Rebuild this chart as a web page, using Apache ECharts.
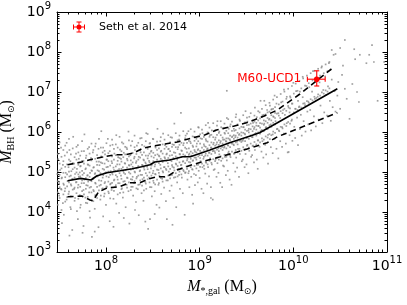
<!DOCTYPE html>
<html><head><meta charset="utf-8">
<script src="https://cdn.jsdelivr.net/npm/echarts@6/dist/echarts.min.js"></script>
<style>html,body{margin:0;padding:0;background:#fff}#c{width:407px;height:305px}</style>
</head><body><div id="c"></div>
<script>
// All values are log10 of the physical quantity
const xRange = [Math.log10(3e7), 11];
const yRange = [3, 9];
const xMajorTicks = [8, 9, 10, 11];
const yMajorTicks = [3, 4, 5, 6, 7, 8, 9];

// log10 M_*,gal , log10 M_BH for the galaxy sample
const galaxyPoints = [
[7.48,4.95],[7.49,5.32],[7.50,4.41],[7.50,4.72],[7.51,5.05],[7.52,4.58],[7.52,5.61],[7.53,4.86],[7.54,4.22],[7.54,5.18],[7.55,4.68],[7.55,3.93],
[7.56,5.41],[7.56,4.52],[7.57,4.98],[7.58,4.31],[7.58,5.73],[7.59,4.77],[7.60,5.12],[7.60,4.45],[7.61,5.55],[7.61,4.89],[7.62,4.12],[7.62,5.27],[7.63,4.66],[7.63,5.02],[7.64,3.55],[7.64,4.83],[7.65,5.88],
[7.66,4.58],[7.66,5.21],[7.67,4.95],[7.67,4.35],[7.68,5.46],[7.68,4.74],[7.69,5.08],[7.70,3.82],[7.70,4.61],[7.70,5.67],[7.71,4.88],[7.71,5.33],[7.72,4.42],[7.72,4.99],[7.73,5.15],[7.73,4.18],[7.74,4.72],[7.74,5.52],[7.75,3.48],[7.75,4.93],
[7.76,5.28],[7.76,4.55],[7.77,4.81],[7.77,5.94],[7.78,4.36],[7.78,5.07],[7.79,4.67],[7.79,5.41],[7.80,4.91],[7.80,4.22],[7.81,5.18],[7.81,4.76],[7.82,5.62],[7.82,4.49],[7.83,4.98],[7.83,3.86],[7.84,5.35],[7.84,4.63],[7.85,5.03],[7.85,4.29],[7.85,3.38],
[7.86,4.83],[7.86,5.49],[7.87,4.52],[7.87,5.12],[7.88,4.95],[7.88,4.08],[7.89,5.71],[7.89,4.71],[7.90,5.26],[7.90,4.42],[7.91,4.89],[7.91,5.04],[7.92,3.62],[7.92,5.58],[7.93,4.66],[7.93,5.17],[7.94,4.31],[7.94,4.97],[7.95,5.39],[7.95,4.78],[7.95,6.02],
[7.96,4.58],[7.96,5.22],[7.97,4.92],[7.97,5.61],[7.98,4.39],[7.98,5.06],[7.99,4.75],[7.99,5.44],[8.00,4.99],[8.00,4.18],[8.01,5.31],[8.01,4.63],[8.02,5.13],[8.02,5.83],[8.03,4.87],[8.03,4.47],[8.04,5.52],[8.04,3.77],[8.05,5.02],[8.05,4.71],
[8.06,5.27],[8.06,4.55],[8.07,5.68],[8.07,4.94],[8.08,4.33],[8.08,5.11],[8.09,4.81],[8.09,5.46],[8.10,5.03],[8.10,4.62],[8.11,5.92],[8.11,4.21],[8.12,5.19],[8.12,4.88],[8.13,5.37],[8.13,4.72],[8.14,3.98],[8.14,5.07],[8.15,5.56],[8.15,4.48],
[8.16,4.91],[8.16,5.33],[8.17,4.59],[8.17,5.74],[8.18,5.12],[8.18,4.36],[8.19,4.98],[8.19,5.48],[8.20,4.77],[8.20,5.22],[8.21,4.12],[8.21,5.05],[8.22,5.61],[8.22,4.68],[8.23,5.29],[8.23,4.85],[8.24,6.01],[8.24,4.52],[8.25,5.16],[8.25,3.71],
[8.26,4.96],[8.26,5.42],[8.27,4.63],[8.27,5.19],[8.28,5.77],[8.28,4.81],[8.29,4.41],[8.29,5.08],[8.30,5.34],[8.30,4.72],[8.31,5.55],[8.31,4.99],[8.32,4.25],[8.32,5.23],[8.33,4.88],[8.33,5.66],[8.34,5.11],[8.34,4.57],[8.35,3.92],[8.35,5.38],
[8.36,5.02],[8.36,4.69],[8.37,5.49],[8.37,4.93],[8.38,5.85],[8.38,4.47],[8.39,5.17],[8.39,4.82],[8.40,5.31],[8.40,4.28],[8.41,5.64],[8.41,5.06],[8.42,4.75],[8.42,5.24],[8.43,4.58],[8.43,5.97],[8.44,5.13],[8.44,4.91],[8.45,5.41],[8.45,3.58],
[8.46,4.86],[8.46,5.28],[8.47,5.72],[8.47,4.62],[8.48,5.09],[8.48,5.51],[8.49,4.39],[8.49,5.19],[8.50,4.97],[8.50,5.83],[8.51,4.73],[8.51,5.36],[8.52,5.14],[8.52,4.52],[8.53,5.61],[8.53,4.94],[8.54,5.26],[8.54,4.18],[8.55,5.44],[8.55,6.08],
[8.56,5.05],[8.56,4.68],[8.57,5.39],[8.57,4.91],[8.58,5.77],[8.58,5.18],[8.59,4.45],[8.59,5.53],[8.60,4.83],[8.60,5.29],[8.61,5.96],[8.61,4.99],[8.62,5.12],[8.62,4.61],[8.63,5.67],[8.63,5.34],[8.64,4.27],[8.64,5.08],[8.65,5.46],[8.65,3.82],
[8.66,5.22],[8.66,4.79],[8.67,5.58],[8.67,5.01],[8.68,4.53],[8.68,5.41],[8.69,5.87],[8.69,4.92],[8.70,5.27],[8.70,4.66],[8.71,5.13],[8.71,5.69],[8.72,4.35],[8.72,5.35],[8.73,5.04],[8.73,6.21],[8.74,4.87],[8.74,5.48],[8.75,5.19],[8.75,4.12],
[8.76,5.31],[8.76,4.74],[8.77,5.62],[8.77,5.08],[8.78,4.93],[8.78,5.81],[8.79,4.58],[8.79,5.44],[8.80,5.17],[8.80,6.48],[8.81,4.86],[8.81,5.53],[8.82,5.26],[8.82,4.47],[8.83,5.72],[8.83,5.02],[8.84,3.93],[8.84,5.39],[8.85,4.99],[8.85,5.91],
[8.86,5.14],[8.86,5.58],[8.87,4.81],[8.87,5.33],[8.88,6.02],[8.88,4.97],[8.89,5.46],[8.89,4.62],[8.90,5.24],[8.90,5.76],[8.91,4.88],[8.91,5.41],[8.92,5.07],[8.92,4.43],[8.93,5.63],[8.93,5.29],[8.94,4.95],[8.94,5.88],[8.95,5.51],[8.95,4.67],
[8.96,5.36],[8.96,4.92],[8.97,5.71],[8.97,5.18],[8.98,4.74],[8.98,5.55],[8.99,6.11],[8.99,5.03],[9.00,5.42],[9.00,4.85],[9.01,5.84],[9.01,5.27],[9.02,4.58],[9.02,5.49],[9.03,5.12],[9.03,5.97],[9.04,5.33],[9.04,4.47],[9.05,5.65],[9.05,5.08],
[9.06,5.41],[9.06,4.96],[9.07,5.78],[9.07,5.23],[9.08,4.71],[9.08,5.57],[9.09,6.23],[9.09,5.12],[9.10,5.48],[9.10,4.89],[9.11,5.92],[9.11,5.34],[9.12,4.62],[9.12,5.61],[9.13,5.19],[9.13,6.04],[9.14,5.52],[9.14,4.31],[9.15,5.73],[9.15,5.05],
[9.16,5.52],[9.16,5.07],[9.17,5.86],[9.17,5.31],[9.18,4.88],[9.18,5.69],[9.19,6.27],[9.19,5.22],[9.20,5.59],[9.20,4.98],[9.21,6.01],[9.21,5.44],[9.22,4.73],[9.22,5.73],[9.23,5.28],[9.23,6.12],[9.24,5.63],[9.24,4.62],[9.25,5.81],[9.25,5.16],
[9.26,5.61],[9.26,5.14],[9.27,5.96],[9.27,5.38],[9.28,4.92],[9.28,5.77],[9.29,6.35],[9.29,5.29],[9.30,5.67],[9.30,5.03],[9.31,6.08],[9.31,5.51],[9.32,4.81],[9.32,5.82],[9.33,5.37],[9.33,6.19],[9.34,5.72],[9.34,4.68],[9.35,5.89],[9.29,7.03],
[9.36,5.69],[9.36,5.22],[9.37,6.03],[9.37,5.46],[9.38,5.01],[9.38,5.87],[9.39,6.44],[9.39,5.36],[9.40,5.76],[9.40,5.11],[9.41,6.17],[9.41,5.58],[9.42,4.88],[9.42,5.93],[9.43,5.45],[9.43,6.28],[9.44,5.79],[9.45,5.27],
[9.46,5.78],[9.46,5.31],[9.47,6.12],[9.47,5.56],[9.48,5.12],[9.48,5.96],[9.49,6.52],[9.49,5.45],[9.50,5.85],[9.50,5.19],[9.51,6.26],[9.51,5.68],[9.52,4.97],[9.52,6.04],[9.53,5.53],[9.53,6.38],[9.54,5.91],[9.55,5.38],
[9.56,5.87],[9.56,5.42],[9.57,6.23],[9.57,5.66],[9.58,5.24],[9.58,6.08],[9.59,6.61],[9.59,5.55],[9.60,5.97],[9.61,5.31],[9.61,6.37],[9.62,5.79],[9.62,5.08],[9.63,6.15],[9.64,5.63],[9.64,6.49],[9.65,6.02],[9.65,6.78],
[9.66,5.51],[9.66,6.04],[9.67,6.42],[9.67,5.77],[9.68,5.36],[9.69,6.21],[9.69,6.78],[9.70,5.68],[9.71,6.12],[9.71,5.44],[9.72,6.55],[9.73,5.93],[9.73,5.21],[9.74,6.31],[9.75,5.82],[9.75,6.66],
[9.76,6.19],[9.76,5.62],[9.77,6.57],[9.78,5.94],[9.78,5.47],[9.79,6.38],[9.80,6.91],[9.80,5.83],[9.81,6.27],[9.82,5.58],[9.82,6.71],[9.83,6.08],[9.84,5.34],[9.84,6.47],[9.85,6.02],
[9.86,6.35],[9.86,5.77],[9.87,6.74],[9.88,6.12],[9.88,5.63],[9.89,6.55],[9.90,7.06],[9.90,5.96],[9.91,6.43],[9.92,5.71],[9.93,6.88],[9.93,6.22],[9.94,5.49],[9.95,6.61],[9.95,5.50],
[9.96,6.49],[9.96,5.92],[9.97,6.86],[9.98,6.28],[9.99,5.78],[9.99,6.71],[10.00,7.23],[10.01,6.13],[10.02,6.58],[10.02,5.85],[10.03,7.02],[10.04,6.36],[10.05,5.67],[10.05,6.78],
[10.06,6.62],[10.07,6.07],[10.07,7.01],[10.08,6.43],[10.09,5.91],[10.10,6.87],[10.10,7.38],[10.11,6.27],[10.12,6.72],[10.13,6.01],[10.14,7.15],[10.15,6.51],
[10.16,6.76],[10.16,6.19],[10.17,7.12],[10.18,6.55],[10.19,6.04],[10.20,7.01],[10.21,7.52],[10.22,6.39],[10.23,6.83],[10.24,6.14],[10.25,7.28],
[10.26,6.88],[10.27,6.31],[10.28,7.24],[10.29,6.66],[10.30,7.61],[10.31,6.22],[10.32,7.05],[10.33,6.49],[10.34,7.39],[10.35,6.93],
[10.36,6.41],[10.37,7.14],[10.38,7.72],[10.39,6.78],[10.40,6.28],[10.41,7.31],[10.42,6.62],[10.43,7.93],[10.44,7.02],[10.45,6.51],
[10.41,8.05],[10.45,7.95],[10.50,8.10],[10.55,8.30],[10.65,8.07],[10.71,7.93],[10.81,7.93],[10.86,7.75],[10.97,7.75],[10.66,7.82],
[10.52,7.43],[10.63,7.20],[10.55,7.08],[10.68,7.00],[10.57,6.83],[10.90,6.78],[10.70,6.75],[10.50,6.58],[10.60,6.33],[10.84,8.17],
[10.78,7.72],[10.47,6.91],[10.53,7.66],[10.48,7.25],
[7.53,3.72],[7.61,3.41],[7.69,4.02],[7.76,3.65],[7.88,3.51],[7.97,3.89],[8.08,3.63],[8.19,3.85],[8.31,4.05],[8.42,3.76],
[8.57,4.11],[8.71,3.68],[8.93,4.21],[9.12,4.35],[8.47,3.82],[8.52,3.95]
];

// more galaxies, listed per narrow stellar-mass column: [log M_*,gal, log M_BH values...]
const galaxyColumns = [
[7.485,5.45,5.02,4.77,4.49,4.18],[7.505,5.21,4.93,4.62,4.35,5.74],[7.525,5.38,5.09,4.84,4.56,4.05],[7.545,5.55,4.98,4.71,4.44,5.27],
[7.565,5.13,4.87,4.59,4.26,5.66],[7.585,5.49,5.19,4.94,4.64,4.37],[7.605,5.31,5.01,4.74,4.51,5.83],[7.625,5.44,4.91,4.69,4.39,4.07],
[7.645,5.22,5.07,4.82,4.56,5.59],[7.665,5.37,5.11,4.86,4.61,4.28],[7.685,5.63,4.99,4.75,4.47,5.31],[7.705,5.18,4.94,4.68,4.33,5.49],
[7.725,5.41,5.14,4.89,4.63,4.11],[7.745,5.28,5.03,4.79,4.52,5.77],[7.765,5.52,4.97,4.72,4.44,5.21],[7.785,5.35,5.09,4.85,4.58,4.23],
[7.805,5.19,4.92,4.66,4.38,5.58],[7.825,5.46,5.16,4.88,4.61,4.02],[7.845,5.29,5.04,4.77,4.49,5.71],[7.865,5.55,5.11,4.84,4.55,4.27],
[7.885,5.33,4.97,4.73,4.42,5.64],[7.905,5.42,5.18,4.91,4.63,4.35],[7.925,5.26,5.02,4.79,4.54,5.83],[7.945,5.61,5.24,4.95,4.68,4.41],
[7.965,5.37,5.08,4.86,4.59,5.49],[7.985,5.53,5.21,4.97,4.72,4.46],[8.005,5.31,5.12,4.89,4.64,5.72],[8.025,5.47,5.27,5.01,4.76,4.51],
[8.045,5.66,5.16,4.93,4.69,4.34],[8.065,5.39,5.22,4.98,4.73,5.81],[8.085,5.58,5.31,5.05,4.79,4.53],[8.105,5.42,5.14,4.92,4.67,5.69],
[8.125,5.61,5.28,5.04,4.81,4.44],[8.145,5.35,5.19,4.97,4.72,5.88],[8.165,5.52,5.26,5.08,4.83,4.57],[8.185,5.71,5.37,5.02,4.76,4.49],
[8.205,5.44,5.21,4.95,4.69,5.63],[8.225,5.57,5.33,5.11,4.86,4.61],[8.245,5.39,5.17,4.99,4.74,5.79],[8.265,5.66,5.29,5.06,4.82,4.55],
[8.285,5.48,5.24,5.13,4.88,4.63],[8.305,5.62,5.38,5.01,4.77,5.91],[8.325,5.45,5.27,5.09,4.84,4.59],[8.345,5.73,5.31,5.15,4.91,4.68],
[8.365,5.54,5.36,5.04,4.79,5.84],[8.385,5.68,5.43,5.18,4.93,4.66],[8.405,5.49,5.29,5.11,4.86,4.54],[8.425,5.77,5.41,5.21,4.97,4.71],
[8.445,5.58,5.34,5.07,4.82,5.95],[8.465,5.71,5.46,5.24,4.99,4.74],[8.485,5.53,5.39,5.16,4.91,4.62],[8.505,5.82,5.48,5.27,5.03,4.78],
[8.525,5.64,5.42,5.19,4.95,4.69],[8.545,5.76,5.55,5.31,5.06,4.81],[8.565,5.59,5.41,5.22,4.98,4.72],[8.585,5.87,5.51,5.33,5.09,4.85],
[8.605,5.69,5.46,5.25,5.02,4.76],[8.625,5.81,5.58,5.37,5.12,4.87],[8.645,5.63,5.44,5.28,5.05,4.79],[8.665,5.92,5.57,5.35,5.14,4.91],
[8.685,5.74,5.52,5.31,5.08,4.84],[8.705,5.86,5.63,5.42,5.17,4.93],[8.725,5.68,5.49,5.33,5.11,4.86],[8.745,5.97,5.62,5.39,5.21,4.97],
[8.765,5.79,5.57,5.36,5.15,4.89],[8.785,5.91,5.68,5.45,5.24,5.01],[8.805,5.73,5.54,5.38,5.18,4.94],[8.825,6.02,5.67,5.44,5.27,5.05],
[8.845,5.84,5.61,5.41,5.22,4.98],[8.865,5.96,5.73,5.49,5.29,5.08],[8.885,5.78,5.59,5.43,5.25,5.02],[8.905,6.07,5.72,5.51,5.33,5.12],
[8.925,5.89,5.66,5.47,5.28,5.06],[8.945,6.01,5.78,5.55,5.36,5.15],[8.965,5.83,5.64,5.49,5.31,5.09],[8.985,6.12,5.77,5.57,5.39,5.18],
[9.005,5.94,5.71,5.53,5.35,5.13],[9.025,6.06,5.83,5.61,5.42,5.21],[9.045,5.88,5.69,5.55,5.38,5.16],[9.065,6.17,5.82,5.63,5.46,5.25],
[9.085,5.99,5.76,5.59,5.41,5.19],[9.105,6.11,5.88,5.67,5.49,5.28],[9.125,5.93,5.74,5.61,5.45,5.23],[9.145,6.22,5.87,5.69,5.53,5.32],
[9.165,6.04,5.81,5.66,5.48,5.27],[9.185,6.16,5.93,5.74,5.56,5.36],[9.205,5.98,5.79,5.68,5.52,5.31],[9.225,6.27,5.92,5.77,5.59,5.39],
[9.245,6.09,5.86,5.71,5.55,5.34],[9.265,6.21,5.98,5.81,5.63,5.43],[9.285,6.03,5.84,5.76,5.59,5.38],[9.305,6.32,5.97,5.84,5.66,5.47],
[9.325,6.14,5.91,5.79,5.62,5.41],[9.345,6.26,6.03,5.87,5.71,5.51],[9.365,6.08,5.92,5.83,5.67,5.46],[9.385,6.37,6.05,5.91,5.74,5.55],
[9.405,6.19,5.98,5.86,5.69,5.49],[9.425,6.31,6.09,5.95,5.78,5.58],[9.445,6.13,5.99,5.91,5.75,5.53],[9.465,6.42,6.12,5.98,5.82,5.62],
[9.485,6.24,6.06,5.94,5.77,5.57],[9.505,6.36,6.17,6.03,5.86,5.66],[9.525,6.18,6.08,5.99,5.83,5.61],[9.545,6.47,6.21,6.07,5.91,5.71],
[9.565,6.29,6.14,6.02,5.87,5.65],[9.585,6.41,6.26,6.12,5.95,5.75],[9.605,6.23,6.16,6.06,5.91,5.69],[9.625,6.52,6.29,6.15,5.99,5.79],
[9.645,6.34,6.22,6.11,5.96,5.74],[9.665,6.58,6.37,6.21,6.05,5.84],[9.685,6.43,6.29,6.18,6.02,5.81],[9.705,6.67,6.44,6.27,6.11,5.89],
[9.725,6.49,6.35,6.23,6.07,5.86],[9.745,6.73,6.51,6.33,6.17,5.95],[9.765,6.56,6.42,6.29,6.13,5.92],[9.785,6.81,6.58,6.39,6.23,6.01],
[9.805,6.62,6.48,6.35,6.19,5.98],[9.825,6.87,6.46,6.07],[9.845,6.69,6.41,6.04],[9.865,6.95,6.52,6.13],[9.885,6.76,6.47,6.09],
[9.905,7.01,6.58,6.19],[9.925,6.83,6.53,6.15],[9.945,7.08,6.65,6.25],[9.965,6.89,6.59,6.21],[9.985,7.15,6.71,6.31],
[10.005,6.96,6.49],[10.025,7.21,6.58],[10.045,7.03,6.55],[10.065,7.28,6.64],[10.085,7.09,6.61],[10.105,7.34,6.71],
[10.125,7.16,6.67],[10.145,7.41,6.77],[10.165,7.22,6.73],[10.185,7.47,6.82],[10.205,7.29,6.79],[10.225,7.53,6.88],
[10.245,7.36,6.85],[10.265,7.58,6.94],[10.285,7.41,6.91],[10.305,7.64,6.99],[10.325,7.47,6.96],[10.345,7.69,7.04],
[10.365,7.52,7.01],[10.385,7.75,7.09]
];

// median and percentile curves (log10 M_*,gal , log10 M_BH)
const medianLine = [[7.59,4.78],[7.73,4.84],[7.84,4.80],[7.90,4.90],[8.01,4.98],[8.15,5.03],[8.28,5.08],[8.38,5.13],[8.47,5.18],[8.52,5.25],[8.68,5.30],[8.82,5.38],[8.90,5.38],[9.11,5.55],[9.32,5.73],[9.54,5.90],[9.64,5.98],[9.83,6.23],[10.47,7.08]];
const upperLine = [[7.59,5.18],[7.74,5.25],[7.87,5.33],[7.98,5.38],[8.09,5.43],[8.20,5.43],[8.30,5.48],[8.40,5.60],[8.51,5.65],[8.63,5.70],[8.76,5.75],[8.92,5.85],[9.06,5.93],[9.18,6.05],[9.37,6.15],[9.50,6.23],[9.69,6.40],[9.83,6.55],[10.07,6.95],[10.41,7.58]];
const lowerLine = [[7.59,4.38],[7.74,4.40],[7.83,4.30],[7.86,4.28],[7.92,4.50],[8.01,4.60],[8.14,4.63],[8.25,4.73],[8.36,4.73],[8.46,4.83],[8.54,4.88],[8.65,4.88],[8.76,5.05],[8.92,5.18],[9.06,5.28],[9.22,5.38],[9.40,5.50],[9.54,5.60],[9.72,5.73],[9.83,5.88],[10.47,6.48]];

// Seth et al. 2014: [x, y, xLow, xHigh, yLow, yHigh]
const sethNames = ['M60-UCD1'];
const sethPoints = [[10.25, 7.32, 10.15, 10.34, 7.15, 7.53]];
const legendLabel = 'Seth et al. 2014';

const allGalaxies = galaxyPoints.slice();
galaxyColumns.forEach(col => { for (let i = 1; i < col.length; i++) allGalaxies.push([col[0], col[i]]); });

function minorTicks(lo, hi) {
  const out = [];
  for (let e = Math.floor(lo); e < hi; e++) {
    for (let k = 2; k <= 9; k++) {
      const v = e + Math.log10(k);
      if (v >= lo - 1e-9 && v <= hi + 1e-9) out.push(v);
    }
  }
  return out;
}
const xMinor = minorTicks(xRange[0], xRange[1]);
const yMinor = minorTicks(yRange[0], yRange[1]);

const tickRich = {
  a: {fontFamily: 'DejaVu Sans', fontSize: 14, lineHeight: 22, color: '#000'},
  b: {fontFamily: 'DejaVu Sans', fontSize: 10, lineHeight: 11, verticalAlign: 'top', color: '#000'}
};
const nameRich = {
  i: {fontFamily: 'Liberation Serif', fontStyle: 'italic', fontSize: 16, lineHeight: 18, color: '#000'},
  r: {fontFamily: 'Liberation Serif', fontSize: 16, lineHeight: 18, color: '#000'},
  s: {fontFamily: 'Liberation Serif', fontSize: 10, lineHeight: 10, verticalAlign: 'bottom', color: '#000'},
  o: {fontFamily: 'DejaVu Sans', fontSize: 9, lineHeight: 10, verticalAlign: 'bottom', color: '#000'}
};
const fmt = v => '{a|10}{b|' + Math.round(v) + '}';

function axis(kind, pos, ticks, len, major) {
  const range = kind === 'x' ? xRange : yRange;
  return {
    type: 'value', position: pos, min: range[0], max: range[1],
    splitLine: {show: false},
    axisLine: {show: major, onZero: false, lineStyle: {color: '#000', width: 1}},
    axisTick: {show: true, inside: true, length: len, customValues: ticks, lineStyle: {color: '#000', width: 1}},
    axisLabel: {show: false}
  };
}

const xAxes = [
  axis('x', 'bottom', xMajorTicks, 4.5, true),
  axis('x', 'bottom', xMinor, 2.5, false),
  axis('x', 'top', xMajorTicks, 4.5, true),
  axis('x', 'top', xMinor, 2.5, false)
];
xAxes[0].axisLabel = {show: true, customValues: xMajorTicks, formatter: fmt, rich: tickRich, margin: 3};
xAxes[0].name = '{i|M}{s|*,gal}{r| (M}{o|⊙}{r|)}';
xAxes[0].nameLocation = 'middle';
xAxes[0].nameGap = 26;
xAxes[0].nameTextStyle = {rich: nameRich};

const yAxes = [
  axis('y', 'left', yMajorTicks, 4.5, true),
  axis('y', 'left', yMinor, 2.5, false),
  axis('y', 'right', yMajorTicks, 4.5, true),
  axis('y', 'right', yMinor, 2.5, false)
];
yAxes[0].axisLabel = {show: true, customValues: yMajorTicks, formatter: fmt, rich: tickRich, margin: 6};
yAxes[0].name = '{i|M}{s|BH}{r| (M}{o|⊙}{r|)}';
yAxes[0].nameLocation = 'middle';
yAxes[0].nameGap = 34;
yAxes[0].nameTextStyle = {rich: nameRich};

const legendIcon = 'path://M0,5L12,5L12,6L0,6Z M5.5,0L6.5,0L6.5,11L5.5,11Z M0,3L1,3L1,8L0,8Z M11,3L12,3L12,8L11,8Z M3.5,0L8.5,0L8.5,1L3.5,1Z M3.5,10L8.5,10L8.5,11L3.5,11Z M8.5,5.5A2.5,2.5,0,1,1,3.5,5.5A2.5,2.5,0,1,1,8.5,5.5Z';

const chart = echarts.init(document.getElementById('c'), null, {renderer: 'canvas'});
chart.setOption({
  animation: false,
  backgroundColor: '#fff',
  grid: {left: 57, right: 20, top: 12, bottom: 53, containLabel: false, outerBoundsMode: 'none'},
  xAxis: xAxes,
  yAxis: yAxes,
  legend: {
    data: [{name: legendLabel, icon: legendIcon, itemStyle: {color: '#ff0000'}}],
    left: 73, top: 21.5, padding: 0, itemWidth: 30, itemHeight: 11, selectedMode: false,
    textStyle: {fontFamily: 'DejaVu Sans', fontSize: 11, color: '#000'}
  },
  series: [
    {type: 'scatter', data: allGalaxies, symbol: 'rect', symbolSize: 1.7, silent: true,
     itemStyle: {color: '#8a8a8a'}, z: 1},
    {type: 'line', data: medianLine, showSymbol: false, silent: true, z: 3,
     lineStyle: {color: '#000', width: 1.6}},
    {type: 'line', data: upperLine, showSymbol: false, silent: true, z: 3,
     lineStyle: {color: '#000', width: 1.6, type: [6, 4]}},
    {type: 'line', data: lowerLine, showSymbol: false, silent: true, z: 3,
     lineStyle: {color: '#000', width: 1.6, type: [6, 4]}},
    {type: 'custom', name: legendLabel, data: sethPoints, z: 5, silent: true,
     itemStyle: {color: '#ff0000'},
     encode: {x: [0, 2, 3], y: [1, 4, 5]},
     renderItem: function (params, api) {
       const c = api.coord([api.value(0), api.value(1)]);
       const l = api.coord([api.value(2), api.value(1)]);
       const r = api.coord([api.value(3), api.value(1)]);
       const b = api.coord([api.value(0), api.value(4)]);
       const t = api.coord([api.value(0), api.value(5)]);
       const cap = 2.5;
       const st = {stroke: '#ff0000', lineWidth: 1.1};
       const ln = (x1, y1, x2, y2) => ({type: 'line', shape: {x1, y1, x2, y2}, style: st});
       return {type: 'group', children: [
         ln(l[0], l[1], r[0], r[1]),
         ln(t[0], t[1], b[0], b[1]),
         ln(l[0], l[1] - cap, l[0], l[1] + cap),
         ln(r[0], r[1] - cap, r[0], r[1] + cap),
         ln(t[0] - cap, t[1], t[0] + cap, t[1]),
         ln(b[0] - cap, b[1], b[0] + cap, b[1]),
         {type: 'circle', shape: {cx: c[0], cy: c[1], r: 2.8}, style: {fill: '#ff0000'}},
         {type: 'text', style: {text: sethNames[params.dataIndex], x: c[0] - 15.5, y: c[1],
           align: 'right', verticalAlign: 'middle', fill: '#ff0000',
           font: '12px "DejaVu Sans"'}}
       ]};
     }}
  ]
});
</script></body></html>
